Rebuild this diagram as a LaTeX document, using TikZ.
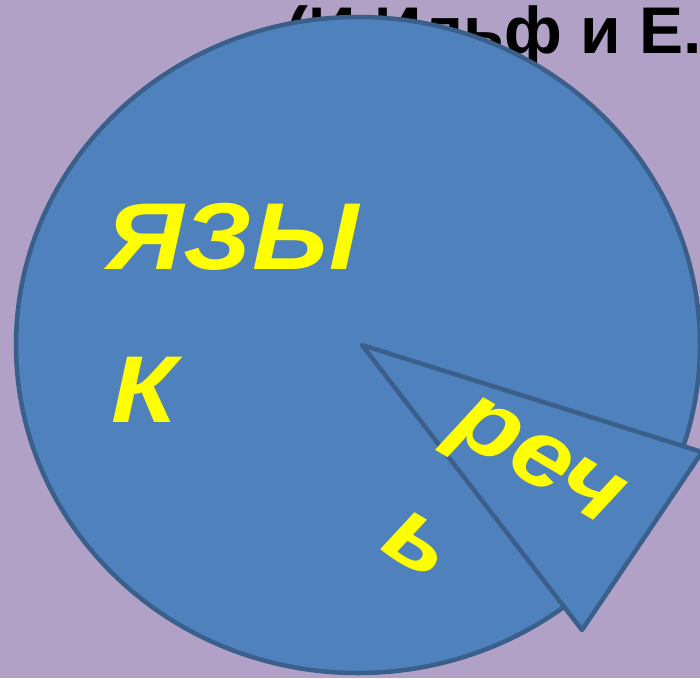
\documentclass[tikz,border=0pt]{standalone}
\usepackage{fontspec}
\setmainfont{Liberation Sans}
\newfontfamily\widesans[FakeStretch=1.12]{Liberation Sans}
\definecolor{bgpurple}{HTML}{B2A1C7}
\definecolor{pieblue}{HTML}{4F81BD}
\definecolor{pieedge}{HTML}{3A5F8B}
\definecolor{txtyellow}{HTML}{FFFF00}
\tikzset{
  piepart/.style={fill=pieblue, draw=pieedge, line width=4.5pt, line join=round},
  bigword/.style={text=txtyellow, font=\widesans\fontsize{95}{95}\selectfont\bfseries\itshape, inner sep=0pt},
  titletext/.style={text=black, font=\fontsize{66}{66}\selectfont\bfseries, inner sep=0pt}
}
\begin{document}
\begin{tikzpicture}[x=1pt,y=-1pt]
\useasboundingbox (0,0) rectangle (700,678);
\clip (0,0) rectangle (700,678);
\fill[bgpurple] (0,0) rectangle (700,678);
\node[titletext, anchor=base east] (title) at (702,53) {(И.Ильф и Е.};
\coordinate (c) at (358,345);
\draw[piepart] (c) ellipse [x radius=342, y radius=328];
\coordinate (apex) at (362,345);
\coordinate (p1) at (702,452);
\coordinate (p2) at (582,630);
\draw[piepart] (apex) -- (p1) -- (p2) -- cycle;
\node[bigword, anchor=base west] (w1) at (106,269) {ЯЗЫ};
\node[bigword, anchor=base west] (w2) at (111,422) {К};
\node[bigword, anchor=base west, rotate=-30.5] (r1) at (447,434) {реч};
\node[bigword, anchor=base west, rotate=-30.5] (r2) at (378,549) {ь};
\end{tikzpicture}
\end{document}
